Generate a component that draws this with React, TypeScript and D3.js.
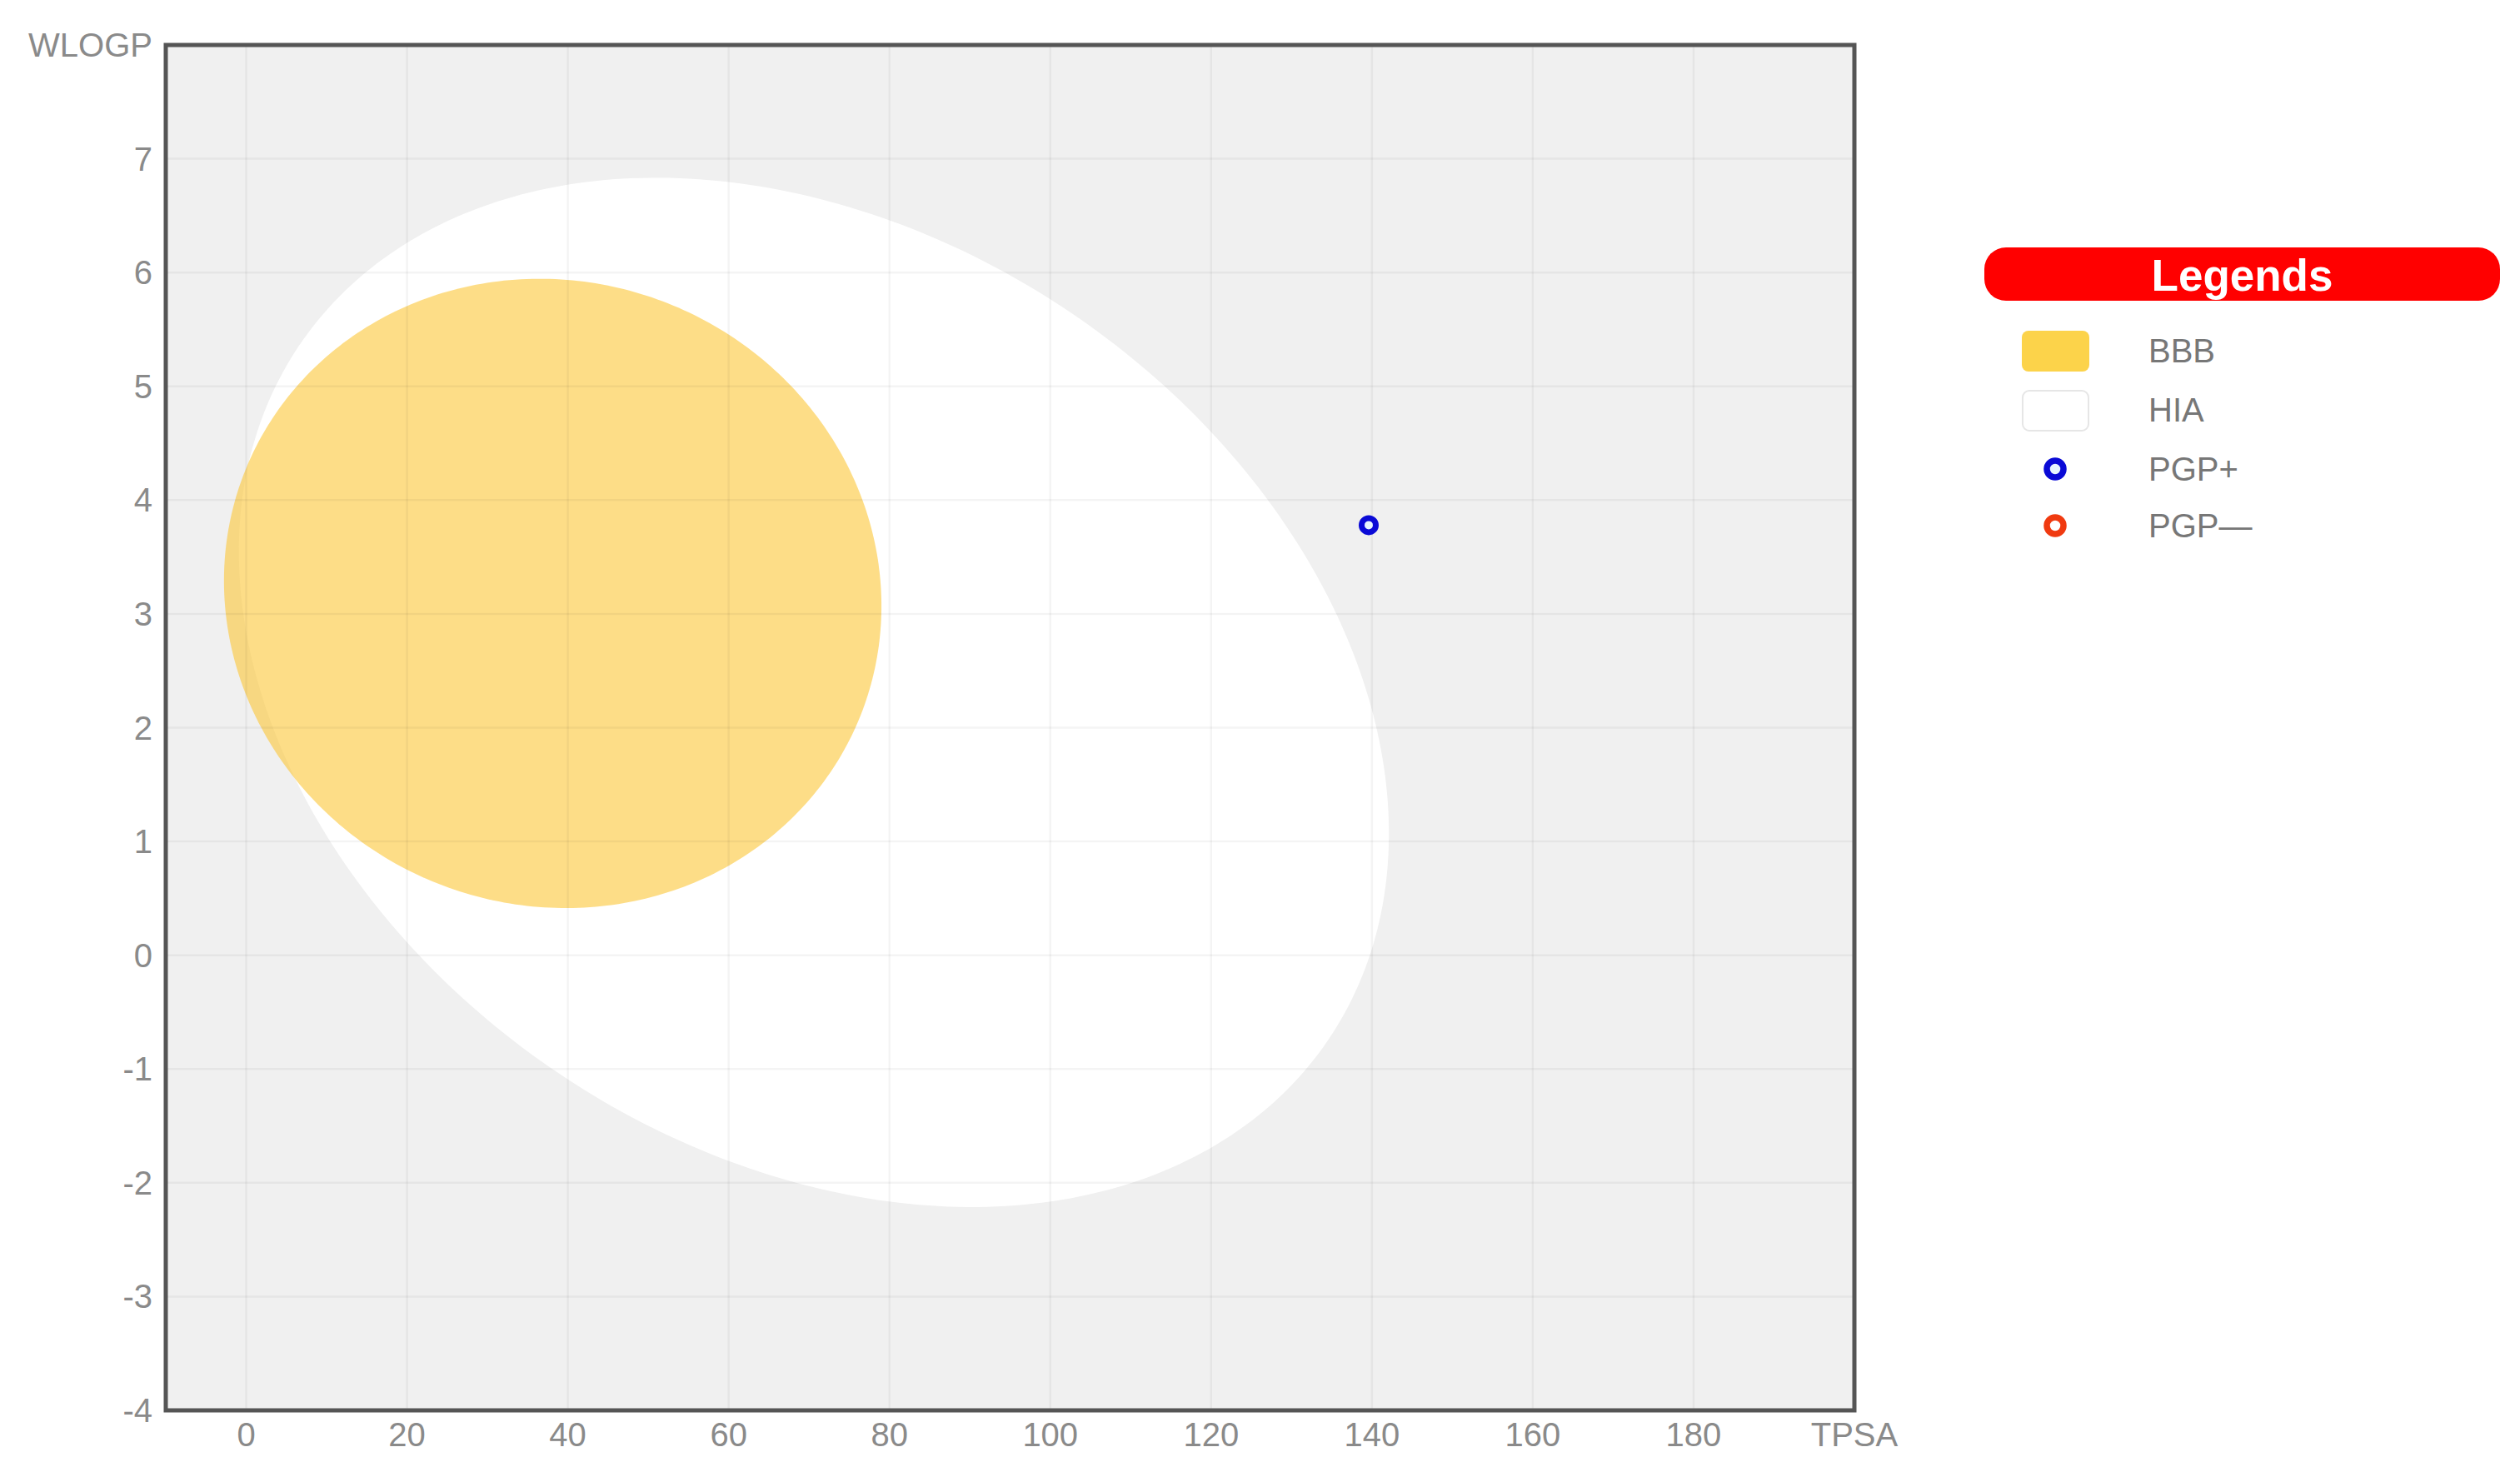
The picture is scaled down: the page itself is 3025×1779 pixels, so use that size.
import React from "react";
import * as d3 from "d3";

// ---- data ----
const xTicks = [0, 20, 40, 60, 80, 100, 120, 140, 160, 180];
const yTicks = [-4, -3, -2, -1, 0, 1, 2, 3, 4, 5, 6, 7];
const xDomain = [-10, 200];
const yDomain = [-4, 8];

// HIA (white) ellipse: centre and conjugate semi-diameters in data units
const hiaCenter = [70.6, 2.31];
const hiaAxisU = [64.0, -3.05];
const hiaAxisV = [-31.9, -3.34];

// BBB (yolk) ellipse
const bbbCenter = [38.12, 3.18];
const bbbAxisU = [38.3, -1.07];
const bbbAxisV = [-14.3, -2.55];

// molecules
const molTPSA = [139.6];
const molWLOGP = [3.78];
const molPGP = ["+"];

const legendLabels = ["BBB", "HIA", "PGP+", "PGP\u2014"];

const W = 3025;
const H = 1779;
const FONT = "'Liberation Sans', Arial, Helvetica, sans-serif";

export default function App() {
  const x = d3.scaleLinear().domain(xDomain).range([199, 2226]);
  const y = d3.scaleLinear().domain(yDomain).range([1693, 54]);

  const ellipsePath = (c: number[], u: number[], v: number[]) => {
    const ts = d3.range(0, 360).map((d) => (d * Math.PI) / 180);
    const line = d3
      .line<number>()
      .x((t) => x(c[0] + u[0] * Math.cos(t) + v[0] * Math.sin(t)))
      .y((t) => y(c[1] + u[1] * Math.cos(t) + v[1] * Math.sin(t)))
      .curve(d3.curveLinearClosed);
    return line(ts) || "";
  };

  const [x0, x1] = x.range();
  const [y0, y1] = y.range();
  const labelColor = "#8a8a8a";

  const legX = 2382;
  const legY = 297;
  const legW = 619;
  const legH = 64;
  const rowY = [421, 492, 563, 631];

  return (
    <svg
      width={W}
      height={H}
      style={{ position: "absolute", left: 0, top: 0, background: "#fff" }}
      fontFamily={FONT}
    >
      <rect x={0} y={0} width={W} height={H} fill="#fff" />
      {/* plot background */}
      <rect x={x0} y={y1} width={x1 - x0} height={y0 - y1} fill="#f0f0f0" />
      {/* egg */}
      <path d={ellipsePath(hiaCenter, hiaAxisU, hiaAxisV)} fill="#ffffff" />
      <path
        d={ellipsePath(bbbCenter, bbbAxisU, bbbAxisV)}
        fill="#fcc637"
        fillOpacity={0.6}
      />
      {/* grid */}
      <g stroke="#000" strokeOpacity={0.045} strokeWidth={2.5}>
        {xTicks.map((t) => (
          <line key={"gx" + t} x1={x(t)} x2={x(t)} y1={y1} y2={y0} />
        ))}
        {yTicks
          .filter((t) => t > yDomain[0])
          .map((t) => (
            <line key={"gy" + t} x1={x0} x2={x1} y1={y(t)} y2={y(t)} />
          ))}
      </g>
      {/* molecules */}
      {molTPSA.map((t, i) => (
        <circle
          key={"m" + i}
          cx={x(t)}
          cy={y(molWLOGP[i])}
          r={8.5}
          fill="#e8f6ff"
          stroke={molPGP[i] === "+" ? "#0a0ad6" : "#f03a10"}
          strokeWidth={7}
        />
      ))}
      {/* frame */}
      <rect
        x={x0}
        y={y1}
        width={x1 - x0}
        height={y0 - y1}
        fill="none"
        stroke="#555"
        strokeWidth={5}
      />
      {/* x labels */}
      <g fontSize={40} fill={labelColor} textAnchor="middle">
        {xTicks.map((t) => (
          <text key={"xl" + t} x={x(t)} y={1722} dominantBaseline="central">
            {t}
          </text>
        ))}
        <text x={x(200)} y={1722} dominantBaseline="central">
          TPSA
        </text>
      </g>
      {/* y labels */}
      <g fontSize={40} fill={labelColor} textAnchor="end">
        {yTicks.map((t) => (
          <text key={"yl" + t} x={183} y={y(t)} dominantBaseline="central">
            {t}
          </text>
        ))}
        <text x={183} y={y(8)} dominantBaseline="central">
          WLOGP
        </text>
      </g>
      {/* legend */}
      <rect x={legX} y={legY} width={legW} height={legH} rx={26} fill="#ff0000" />
      <text
        x={legX + legW / 2}
        y={legY + legH / 2 + 1}
        textAnchor="middle"
        dominantBaseline="central"
        fontSize={53}
        fontWeight="bold"
        fill="#fff"
      >
        Legends
      </text>
      <rect x={2427} y={397} width={81} height={49} rx={8} fill="#fcd34a" />
      <rect
        x={2428}
        y={469}
        width={79}
        height={48}
        rx={8}
        fill="#fff"
        stroke="#e6e6e6"
        strokeWidth={2}
      />
      <circle cx={2467} cy={rowY[2]} r={10} fill="#e8f6ff" stroke="#0a0ad6" strokeWidth={7.5} />
      <circle cx={2467} cy={rowY[3]} r={10} fill="#fff" stroke="#f03a10" strokeWidth={7.5} />
      <g fontSize={40} fill="#777">
        {legendLabels.map((l, i) => (
          <text key={l} x={2579} y={rowY[i]} dominantBaseline="central">
            {l}
          </text>
        ))}
      </g>
    </svg>
  );
}
